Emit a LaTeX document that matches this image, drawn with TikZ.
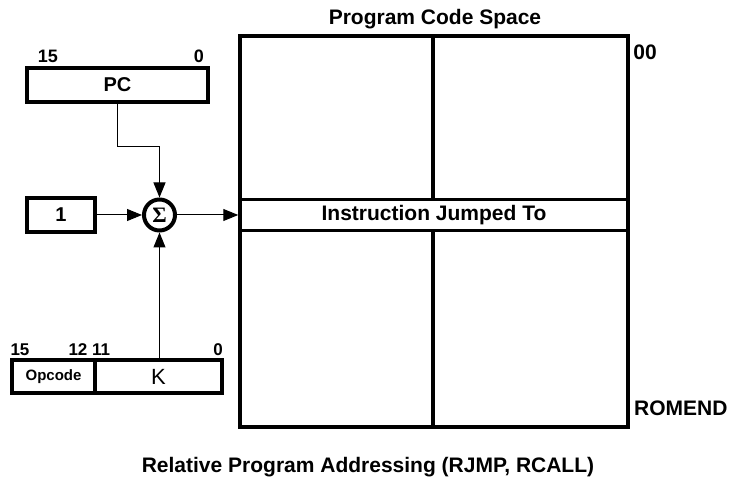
\documentclass[tikz,border=0pt]{standalone}
\usepackage{fontspec}
\setmainfont{Liberation Sans}
\newfontfamily\sigfont{Liberation Serif}
\usetikzlibrary{arrows.meta}
\begin{document}
\begin{tikzpicture}[x=1pt,y=-1pt,
  thickbox/.style={draw,line width=3.5pt,fill=white,inner sep=0pt,font=\fontsize{20}{24}\selectfont\bfseries},
  conn/.style={line width=1pt,-{Triangle[length=15pt,width=12pt]}},
  lbl/.style={inner sep=0pt,font=\fontsize{21}{25}\selectfont\bfseries},
  bitlbl/.style={inner sep=0pt,font=\fontsize{18}{22}\selectfont\bfseries}]
\useasboundingbox (0,0) rectangle (732,489);
% program code space
\draw[line width=3.5pt] (240,36) rectangle (628,427);
\coordinate (divtop) at (433,36);
\coordinate (divbot) at (433,427);
\node[thickbox,minimum width=388pt,minimum height=31pt,font=\fontsize{21}{25}\selectfont\bfseries] (instr) at (434,215) {Instruction Jumped To};
\draw[line width=3.5pt] (divtop) -- (divtop |- instr.north);
\draw[line width=3.5pt] (divbot |- instr.south) -- (divbot);
\node[lbl] (title) at (435,19) {Program Code Space};
\node[lbl] (top) at (645,52) {00};
\node[lbl,anchor=west] (romend) at (634,408) {ROMEND};
\node[lbl] (caption) at (368,467) {Relative Program Addressing (RJMP, RCALL)};
% PC register
\node[thickbox,minimum width=181pt,minimum height=34pt] (pc) at (117.5,85) {PC};
\node[bitlbl] (pc15) at (48,56) {15};
\node[bitlbl] (pc0) at (199,56) {0};
% constant 1
\node[thickbox,minimum width=68pt,minimum height=34pt] (one) at (61,215) {1};
% adder
\node[draw,circle,line width=4pt,minimum size=31pt,inner sep=0pt,fill=white] (sig) at (159.5,215) {\sigfont\bfseries\fontsize{22}{22}\selectfont Σ};
% instruction word
\node[thickbox,minimum width=83pt,minimum height=33pt,font=\fontsize{15}{18}\selectfont\bfseries] (opc) at (53.5,376.5) {Opcode};
\node[thickbox,minimum width=127pt,minimum height=33pt,font=\fontsize{22}{26}\selectfont] (kf) at (158.5,376.5) {K};
\node[bitlbl,font=\fontsize{17}{20}\selectfont\bfseries] (b15) at (20,350) {15};
\node[bitlbl,font=\fontsize{17}{20}\selectfont\bfseries] (b12) at (78,350) {12};
\node[bitlbl,font=\fontsize{17}{20}\selectfont\bfseries] (b11) at (101,350) {11};
\node[bitlbl,font=\fontsize{17}{20}\selectfont\bfseries] (b0) at (218,350) {0};
% connectors
\coordinate (pcbend) at (159.5,147);
\draw[conn] (pc.south) |- (pcbend) -- (sig.north);
\draw[conn] (one.east) -- (sig.west);
\draw[conn] (sig |- kf.north) -- (sig.south);
\draw[conn] (sig.east) -- (instr.west);
\end{tikzpicture}
\end{document}
